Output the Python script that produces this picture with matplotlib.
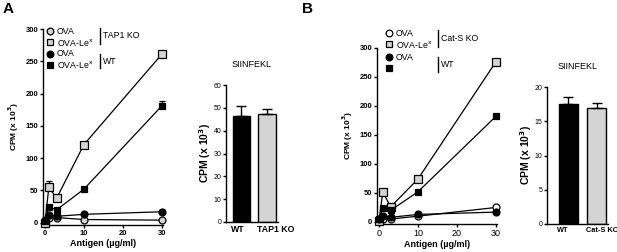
import matplotlib
matplotlib.use("Agg")
import matplotlib.pyplot as plt
from matplotlib import font_manager

plt.rcParams['font.family'] = ['Liberation Sans', 'DejaVu Sans']

_names = {f.name for f in font_manager.fontManager.ttflist}
if 'DejaVu Sans Condensed' in _names:
    COND = dict(family='DejaVu Sans Condensed')
    COND_OK = True
elif 'Liberation Sans Narrow' in _names:
    COND = dict(family='Liberation Sans Narrow')
    COND_OK = True
else:
    COND = dict(family='Liberation Sans')
    COND_OK = False

# ---------------- data ----------------
dose = [0, 1, 3, 10, 30]
x_ticks = [0, 10, 20, 30]
y_ticks_line = [0, 50, 100, 150, 200, 250, 300]

# Panel A
a_ko_ova = [2, 8, 8, 5, 4]
a_ko_ova_err = [0, 2, 2, 3, 1]
a_ko_lex = [0, 55, 38, 121, 261]
a_ko_lex_err = [0, 10, 3, 3, 3]
a_wt_ova = [5, 12, 10, 13, 17]
a_wt_ova_err = [0, 1, 1, 2, 2]
a_wt_lex = [3, 24, 20, 52, 181]
a_wt_lex_err = [0, 3, 2, 2, 7]

# Panel B
b_ko_ova = [2, 5, 5, 10, 25]
b_ko_ova_err = [0, 1, 1, 2, 2]
b_ko_lex = [2, 52, 26, 74, 276]
b_ko_lex_err = [0, 2, 2, 2, 3]
b_wt_ova = [5, 10, 8, 13, 17]
b_wt_ova_err = [0, 1, 1, 2, 2]
b_wt_lex = [5, 24, 20, 52, 182]
b_wt_lex_err = [0, 2, 2, 2, 2]

bar_cats_a = ['WT', 'TAP1 KO']
bar_vals_a = [46.5, 47.4]
bar_err_a = [4.5, 2.1]
bar_ticks_a = [0, 10, 20, 30, 40, 50, 60]

bar_cats_b = ['WT', 'Cat-S KO']
bar_vals_b = [17.5, 16.9]
bar_err_b = [1.0, 0.7]
bar_ticks_b = [0, 5, 10, 15, 20]

W, H = 617, 252
fig = plt.figure(figsize=(W / 100, H / 100), dpi=100)


def ax_px(left, top, right, bottom):
    return fig.add_axes([left / W, 1 - bottom / H, (right - left) / W, (bottom - top) / H])


def style_axes(ax):
    for s in ['top', 'right']:
        ax.spines[s].set_visible(False)
    for s in ['left', 'bottom']:
        ax.spines[s].set_linewidth(1.0)
    ax.tick_params(direction='out', length=2.5, width=1.0, pad=1)


LGRAY = '#d4d4d4'
BAR_W = 0.68


def line_panel(ax, series, xt_bold=True):
    for y, e, marker, fc, ms in series:
        ax.errorbar(dose, y, yerr=[[0] * len(e), e], color='black', lw=0.9,
                    marker=marker, ms=ms, mfc=fc, mec='black', mew=0.9,
                    capsize=2.0, elinewidth=0.9, capthick=0.9, zorder=3, clip_on=False)
    ax.set_xlim(-0.5, 30.3)
    ax.set_ylim(-3.5, 300)
    ax.set_xticks(x_ticks)
    ax.set_yticks(y_ticks_line)
    style_axes(ax)
    for lab in ax.get_yticklabels():
        lab.set_fontsize(5.5)
        lab.set_fontweight('bold')
    for lab in ax.get_xticklabels():
        lab.set_fontsize(5.5 if xt_bold else 6.5)
        lab.set_fontweight('bold' if xt_bold else 'normal')
    ax.set_xlabel('Antigen (µg/ml)', fontsize=6.5, fontweight='bold', labelpad=1.5)
    ax.set_ylabel('CPM (x 10$^{\\mathbf{3}}$)', fontsize=6, fontweight='bold', labelpad=3)


def bar_panel(ax, cats, vals, errs, ticks, lab_size):
    xs = list(range(len(cats)))
    ax.bar(xs, vals, width=BAR_W, color=['black', LGRAY], edgecolor='black', linewidth=1.0, zorder=2)
    ax.errorbar(xs, vals, yerr=[[0] * len(errs), errs], fmt='none', ecolor='black',
                elinewidth=1.0, capsize=3.5, capthick=1.0, zorder=3)
    ax.set_xticks([x - BAR_W / 2 - 0.05 for x in xs])
    ax.set_xticklabels(cats, fontsize=lab_size, fontweight='bold', ha='left', **COND)
    ax.set_yticks(ticks)
    ax.set_yticklabels([str(t) for t in ticks], fontsize=5, **COND)
    ax.set_ylim(0, ticks[-1])
    style_axes(ax)
    ax.tick_params(axis='x', length=0, pad=2)
    ax.set_ylabel('CPM (x 10$^{\\mathbf{3}}$)', fontsize=7.5, fontweight='bold', labelpad=0.5)
    ax.set_title('SIINFEKL', fontsize=6.5, pad=13)


# ---- Panel A line ----
axA = ax_px(43, 29, 163, 225)
line_panel(axA, [
    (a_ko_ova, a_ko_ova_err, 'o', LGRAY, 5.0),
    (a_ko_lex, a_ko_lex_err, 's', LGRAY, 5.5),
    (a_wt_ova, a_wt_ova_err, 'o', 'black', 5.0),
    (a_wt_lex, a_wt_lex_err, 's', 'black', 5.0),
])

# ---- Panel A bar ----
axAb = ax_px(226, 85, 278, 222)
bar_panel(axAb, bar_cats_a, bar_vals_a, bar_err_a, bar_ticks_a, 7.5 if COND_OK else 6.3)
axAb.set_xlim(-0.6, 1.42)

# ---- Panel B line ----
axB = ax_px(377, 48, 497, 224)
line_panel(axB, [
    (b_ko_ova, b_ko_ova_err, 'o', 'white', 5.0),
    (b_ko_lex, b_ko_lex_err, 's', LGRAY, 5.5),
    (b_wt_ova, b_wt_ova_err, 'o', 'black', 5.0),
    (b_wt_lex, b_wt_lex_err, 's', 'black', 5.0),
], xt_bold=False)

# ---- Panel B bar ----
axBb = ax_px(547, 87, 608, 224)
bar_panel(axBb, bar_cats_b, bar_vals_b, bar_err_b, bar_ticks_b, 7.0 if COND_OK else 5.3)
axBb.set_xlim(-0.75, 1.4)


# ---- legends (figure pixel coords) ----
def fig_xy(x, y):
    return x / W, 1 - y / H


def legend(rows, group_labels, mx, tx, bx):
    for (y, marker, fc, txt) in rows:
        fig.lines.append(plt.Line2D([mx / W], [1 - y / H], marker=marker, ms=4.8, mfc=fc,
                                    mec='black', mew=0.9, ls='none', transform=fig.transFigure))
        if txt:
            fig.text(*fig_xy(tx, y), txt, fontsize=6.3, va='center', ha='left')
    for (y0, y1, lab) in group_labels:
        fig.lines.append(plt.Line2D([bx / W, bx / W], [1 - y0 / H, 1 - y1 / H], color='black',
                                    lw=1.0, transform=fig.transFigure))
        fig.text(*fig_xy(bx + 3, (y0 + y1) / 2), lab, fontsize=6.3, va='center', ha='left')


legend([(31, 'o', LGRAY, 'OVA'), (42, 's', LGRAY, 'OVA-Le$^{\\mathrm{x}}$'),
        (54, 'o', 'black', 'OVA'), (65, 's', 'black', 'OVA-Le$^{\\mathrm{x}}$')],
       [(28, 44, 'TAP1 KO'), (54, 68, 'WT')], mx=50, tx=57, bx=100)

legend([(33, 'o', 'white', 'OVA'), (44, 's', LGRAY, 'OVA-Le$^{\\mathrm{x}}$'),
        (57, 'o', 'black', 'OVA'), (68, 's', 'black', '')],
       [(30, 47, 'Cat-S KO'), (57, 72, 'WT')], mx=389, tx=396, bx=438)

fig.text(*fig_xy(3, 9), 'A', fontsize=11, fontweight='bold', va='center', ha='left')
fig.text(*fig_xy(302, 9), 'B', fontsize=11, fontweight='bold', va='center', ha='left')

fig.savefig('out.png', dpi=100)
